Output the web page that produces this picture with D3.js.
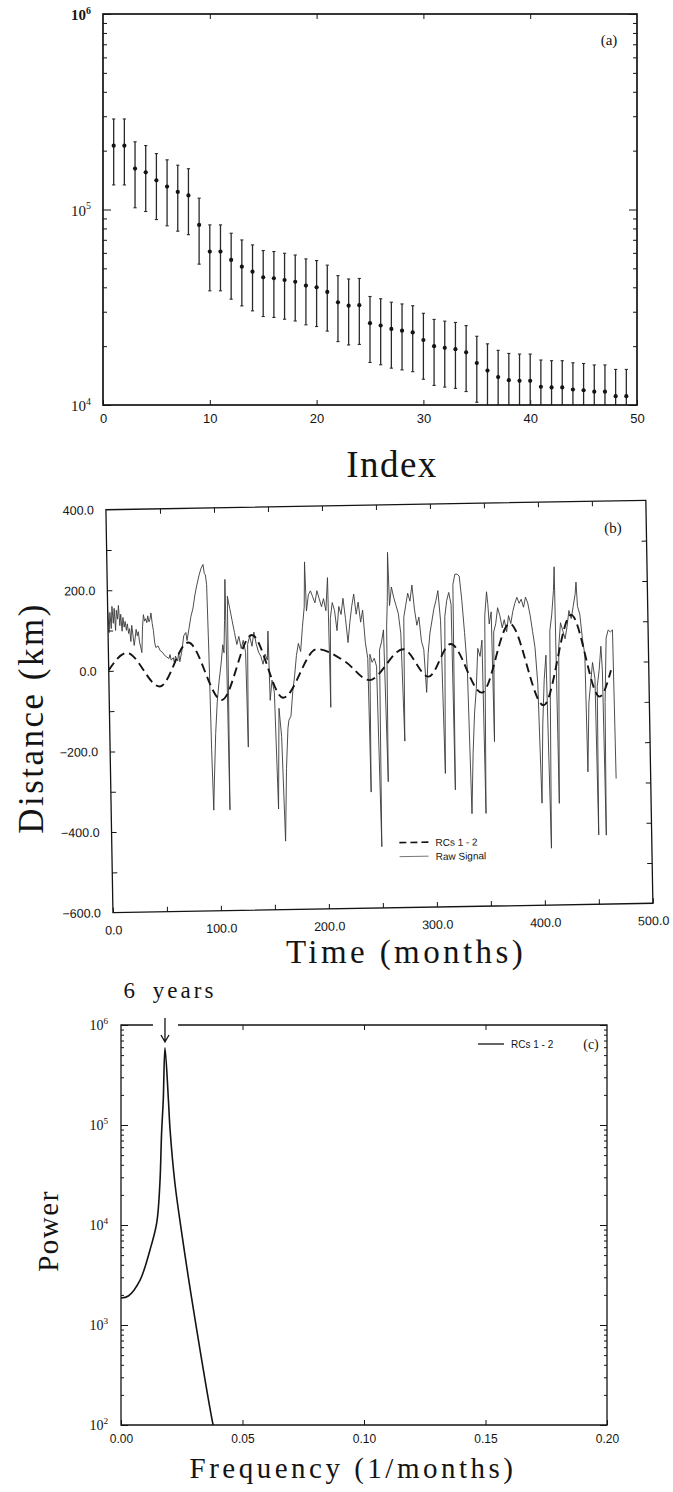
<!DOCTYPE html>
<html>
<head>
<meta charset="utf-8">
<script src="https://cdn.jsdelivr.net/npm/d3@7"></script>
<style>
  html, body { margin: 0; padding: 0; background: #fff; }
  svg { display: block; }
</style>
</head>
<body>
<svg id="fig" width="673" height="1492"></svg>
<script>
// ---------- data ----------
// (a) SSA eigenvalue spectrum, index 1..49
const eigenvalues = [212000, 212000, 162000, 155000, 141000, 131000, 123000, 118000, 83400, 60900,
                     60900, 55200, 51000, 48100, 45000, 44500, 43600, 42700, 40800, 40000,
                     37900, 33500, 32200, 32400, 26200, 25500, 24500, 24000, 23500, 21500,
                     20000, 19600, 19300, 18600, 16400, 15000, 13900, 13400, 13300, 13300,
                     12400, 12300, 12300, 12000, 11900, 11700, 11700, 11100, 11100];
const errorFraction = 0.37;          // half-length of each error bar relative to its eigenvalue
const indexTicks = [0, 10, 20, 30, 40, 50];
const decadesA = [1e4, 1e5, 1e6];

// (b) reconstructed components 1-2 (dashed) and raw signal, months vs km
const rcMonths = [0, 17, 47, 74, 104, 133, 161, 193, 219, 241, 273, 296, 317, 345, 372, 402, 429, 454, 465];
const rcKm     = [2, 44, -41, 67, -77, 83, -74, 45, 13, -34, 41, -28, 52, -70, 100, -104, 119, -85, -20];
const rawSignal = [
  [0,150],[1,95],[2,145],[3,105],[4,160],[5,118],[6,155],[7,100],[8,150],[9,128],[10,162],[11,112],
  [12,140],[13,98],[14,132],[15,108],[16,122],[17,100],[18,116],[19,92],[20,104],[21,72],[22,112],
  [23,88],[24,62],[25,80],[26,102],[27,86],[28,96],[29,70],[30,58],[31,44],[32,108],[33,138],[34,122],
  [35,128],[36,118],[37,135],[38,120],[39,126],[40,142],[41,116],[42,98],[43,68],[44,56],[46,60],[48,48],
  [50,44],[52,36],[54,32],[56,28],[57,38],[58,24],[60,30],[61,16],[62,34],[64,22],[65,42],[66,20],[68,46],
  [70,84],[72,92],[73,72],[75,102],[77,132],[79,152],[81,185],[83,210],[85,232],[87,250],[89,260],[90,238],
  [91,234],[92,210],[93,40],[94,-200],[95,-350],[96,-280],[98,-160],[100,-80],[102,-30],[104,10],[106,60],
  [107,40],[108,120],[109,222],[110,-350],[111,180],[113,150],[115,120],[117,90],[119,60],[121,80],[123,50],
  [125,70],[127,40],[128,-195],[129,60],[131,80],[133,55],[135,90],[137,60],[139,40],[141,30],[143,10],
  [145,35],[147,20],[148,92],[149,-80],[151,-30],[153,-60],[155,-350],[157,-100],[159,-170],[161,-430],
  [163,-250],[165,-150],[166,-130],[168,-120],[170,-60],[172,-20],[174,30],[176,60],[178,40],[180,100],
  [182,150],[183,262],[184,140],[186,180],[188,190],[190,175],[192,160],[194,190],[196,170],[198,150],
  [200,170],[202,140],[204,222],[205,-100],[206,120],[208,160],[210,140],[212,90],[214,150],[216,130],
  [218,170],[220,120],[222,60],[224,110],[226,150],[228,180],[230,130],[232,160],[234,110],[236,140],
  [238,60],[240,20],[241,-312],[242,30],[244,10],[246,20],[248,0],[250,-448],[251,40],[253,60],[255,90],
  [257,-287],[258,100],[259,160],[260,282],[261,150],[263,196],[265,170],[267,150],[269,130],[271,80],
  [273,-187],[274,120],[276,150],[278,180],[280,160],[282,200],[284,140],[286,100],[288,120],[290,60],
  [292,40],[294,-67],[296,30],[298,80],[300,110],[302,140],[304,160],[306,185],[308,110],[310,-269],
  [312,120],[314,160],[316,180],[318,150],[319,-310],[320,200],[322,225],[324,225],[326,220],[328,160],
  [330,80],[332,-10],[334,-370],[336,-220],[338,-120],[340,-60],[342,40],[344,20],[346,60],[347,-370],
  [349,120],[351,180],[352,150],[353,100],[355,130],[356,-192],[357,80],[359,100],[361,140],[363,120],
  [365,90],[367,110],[369,80],[371,120],[373,100],[375,130],[377,150],[379,165],[381,150],[383,160],
  [385,140],[387,165],[389,150],[391,120],[393,80],[395,40],[397,-50],[399,-347],[401,-150],[403,-40],
  [405,20],[407,-459],[409,80],[411,120],[413,180],[414,239],[415,-348],[417,40],[419,100],[421,80],
  [423,60],[425,90],[427,130],[429,110],[431,140],[433,170],[434,200],[435,140],[437,120],[439,60],
  [441,20],[442,-271],[444,-100],[446,-50],[448,0],[450,-40],[451,-428],[452,-60],[454,-20],[456,40],
  [457,-20],[458,-429],[459,-100],[461,60],[463,80],[465,75],[467,80],[468,-289]
];
const timeTicks = [0, 100, 200, 300, 400, 500];
const distTicks = [-600, -400, -200, 0, 200, 400];

// (c) power spectrum of RCs 1-2
const specFreq  = [0, 0.003, 0.0078, 0.0119, 0.0147, 0.016, 0.0167, 0.0174, 0.0181, 0.0195, 0.0202, 0.0222, 0.025, 0.029, 0.0379, 0.0400];
const specPower = [1860, 1950, 2800, 5600, 10500, 26000, 83000, 180000, 590000, 180000, 89000, 26000, 8300, 1900, 100, 60];
const freqTicks = [0, 0.05, 0.10, 0.15, 0.20];
const decadesC = [1e2, 1e3, 1e4, 1e5, 1e6];
const peakFreq = 0.0181;

// ---------- helpers ----------
const svg = d3.select("#fig");
const serif = "'Liberation Serif','Times New Roman',serif";
const sans = "'Liberation Sans',Arial,Helvetica,sans-serif";
const ink = "#141414";

function frame(g, x0, y0, x1, y1, w) {
  g.append("rect").attr("x", x0).attr("y", y0).attr("width", x1 - x0).attr("height", y1 - y0)
    .attr("fill", "none").attr("stroke", ink).attr("stroke-width", w);
}
function styleAxis(sel) {
  sel.select(".domain").remove();
  sel.selectAll(".tick line").attr("stroke", ink).attr("stroke-width", 1);
  sel.selectAll(".tick text").attr("fill", ink);
}
function minorLog(decades) {
  const out = [];
  for (let i = 0; i < decades.length - 1; i++)
    for (let k = 2; k <= 9; k++) out.push(decades[i] * k);
  return out;
}
function powerLabel(g, x, y, exp, size) {
  const t = g.append("text").attr("x", x).attr("y", y).attr("text-anchor", "end")
    .attr("font-family", serif).attr("font-size", size).attr("fill", ink);
  t.append("tspan").text("10");
  t.append("tspan").attr("dy", -size * 0.42).attr("font-size", size * 0.66).text(exp);
  return t;
}

// ---------- (a) ----------
const A = { left: 103, right: 637, top: 14, bottom: 405 };
const xA = d3.scaleLinear().domain([0, 50]).range([A.left, A.right]);
const yA = d3.scaleLog().domain([1e4, 1e6]).range([A.bottom, A.top]);
const gA = svg.append("g");

gA.append("defs").append("clipPath").attr("id", "clipA")
  .append("rect").attr("x", A.left).attr("y", A.top).attr("width", A.right - A.left).attr("height", A.bottom - A.top);

gA.append("g").attr("transform", `translate(0,${A.bottom})`)
  .call(d3.axisBottom(xA).tickValues(indexTicks).tickSize(-5).tickPadding(9).tickFormat(d3.format("d")))
  .call(styleAxis)
  .call(g => g.selectAll("text").attr("font-family", sans).attr("font-size", 13));
gA.append("g").attr("transform", `translate(0,${A.top})`)
  .call(d3.axisTop(xA).tickValues(indexTicks.slice(1, -1)).tickSize(-5).tickFormat(""))
  .call(styleAxis);
[[d3.axisLeft, A.left], [d3.axisRight, A.right]].forEach(([ax, x]) => {
  gA.append("g").attr("transform", `translate(${x},0)`)
    .call(ax(yA).tickValues(minorLog(decadesA)).tickSize(-4).tickFormat(""))
    .call(styleAxis);
  gA.append("g").attr("transform", `translate(${x},0)`)
    .call(ax(yA).tickValues(decadesA).tickSize(-8).tickFormat(""))
    .call(styleAxis);
});
decadesA.forEach(d => {
  const exp = Math.round(Math.log10(d));
  powerLabel(gA, 91, yA(d) + 6, exp, 15).attr("font-weight", exp === 6 ? "bold" : "normal");
});

const bars = gA.append("g").attr("clip-path", "url(#clipA)");
eigenvalues.forEach((v, i) => {
  const x = xA(i + 1);
  const yHi = yA(v * (1 + errorFraction));
  const yLo = yA(Math.max(v * (1 - errorFraction), 1e3));
  bars.append("line").attr("x1", x).attr("x2", x).attr("y1", yHi).attr("y2", yLo)
    .attr("stroke", "#2a2a2a").attr("stroke-width", 1.3);
  [yHi, yLo].forEach(y => bars.append("line").attr("x1", x - 1.6).attr("x2", x + 1.6)
    .attr("y1", y).attr("y2", y).attr("stroke", "#2a2a2a").attr("stroke-width", 1.1));
  bars.append("circle").attr("cx", x).attr("cy", yA(v)).attr("r", 2.1).attr("fill", ink);
});
frame(gA, A.left, A.top, A.right, A.bottom, 1.7);
gA.append("text").attr("x", 609).attr("y", 45).attr("text-anchor", "middle")
  .attr("font-family", serif).attr("font-size", 15).attr("fill", ink).text("(a)");
svg.append("text").attr("x", 392).attr("y", 477).attr("text-anchor", "middle")
  .attr("font-family", serif).attr("font-size", 37).attr("letter-spacing", 1.5).attr("fill", ink).text("Index");

// ---------- (b) ----------
const B = { left: 109.4, right: 649.4, top: 505, bottom: 908 };
const xB = d3.scaleLinear().domain([0, 500]).range([B.left, B.right]);
const yB = d3.scaleLinear().domain([-600, 400]).range([B.bottom, B.top]);
const cxB = (B.left + B.right) / 2, cyB = (B.top + B.bottom) / 2;
const gB = svg.append("g").attr("transform", `rotate(-1,${cxB},${cyB})`);

gB.append("defs").append("clipPath").attr("id", "clipB")
  .append("rect").attr("x", B.left).attr("y", B.top).attr("width", B.right - B.left).attr("height", B.bottom - B.top);

gB.append("g").attr("transform", `translate(0,${B.bottom})`)
  .call(d3.axisBottom(xB).tickValues(d3.range(0, 501, 50)).tickSize(-5).tickFormat(""))
  .call(styleAxis);
gB.append("g").attr("transform", `translate(0,${B.bottom})`)
  .call(d3.axisBottom(xB).tickValues(timeTicks).tickSize(0).tickPadding(13).tickFormat(d3.format(".1f")))
  .call(styleAxis)
  .call(g => g.selectAll("text").attr("font-family", sans).attr("font-size", 12.5));
gB.append("g").attr("transform", `translate(0,${B.top})`)
  .call(d3.axisTop(xB).tickValues(d3.range(50, 500, 50)).tickSize(-5).tickFormat(""))
  .call(styleAxis);
gB.append("g").attr("transform", `translate(${B.left},0)`)
  .call(d3.axisLeft(yB).tickValues(d3.range(-500, 400, 100)).tickSize(-5).tickFormat(""))
  .call(styleAxis);
gB.append("g").attr("transform", `translate(${B.left},0)`)
  .call(d3.axisLeft(yB).tickValues(distTicks).tickSize(0).tickPadding(12).tickFormat(d3.format(".1f")))
  .call(styleAxis)
  .call(g => g.selectAll("text").attr("font-family", sans).attr("font-size", 12.5));
gB.append("g").attr("transform", `translate(${B.right},0)`)
  .call(d3.axisRight(yB).tickValues(d3.range(-500, 400, 100)).tickSize(-5).tickFormat(""))
  .call(styleAxis);

const plotB = gB.append("g").attr("clip-path", "url(#clipB)");
plotB.append("path").datum(rawSignal)
  .attr("d", d3.line().x(d => xB(d[0])).y(d => yB(d[1])))
  .attr("fill", "none").attr("stroke", "#3a3a3a").attr("stroke-width", 0.9).attr("stroke-linejoin", "round");
plotB.append("path").datum(rcMonths.map((m, i) => [m, rcKm[i]]))
  .attr("d", d3.line().x(d => xB(d[0])).y(d => yB(d[1])).curve(d3.curveMonotoneX))
  .attr("fill", "none").attr("stroke", ink).attr("stroke-width", 1.9).attr("stroke-dasharray", "9,5");
frame(gB, B.left, B.top, B.right, B.bottom, 1.3);
gB.append("text").attr("x", 616).attr("y", 537).attr("text-anchor", "middle")
  .attr("font-family", serif).attr("font-size", 15).attr("fill", ink).text("(b)");

// legend (b)
const legB = gB.append("g").attr("font-family", sans).attr("font-size", 10).attr("fill", ink);
legB.append("line").attr("x1", 397).attr("x2", 426).attr("y1", 843).attr("y2", 843)
  .attr("stroke", ink).attr("stroke-width", 1.6).attr("stroke-dasharray", "7,4");
legB.append("text").attr("x", 433).attr("y", 847).text("RCs 1 - 2");
legB.append("line").attr("x1", 397).attr("x2", 426).attr("y1", 857).attr("y2", 857)
  .attr("stroke", "#555").attr("stroke-width", 0.8);
legB.append("text").attr("x", 433).attr("y", 861).text("Raw Signal");

svg.append("text").attr("transform", "translate(43,718) rotate(-90)").attr("text-anchor", "middle")
  .attr("font-family", serif).attr("font-size", 35).attr("letter-spacing", 2.5).attr("fill", ink).text("Distance (km)");
svg.append("text").attr("x", 406).attr("y", 963).attr("text-anchor", "middle")
  .attr("font-family", serif).attr("font-size", 33).attr("letter-spacing", 3.4).attr("fill", ink).text("Time (months)");

// ---------- (c) ----------
const C = { left: 121, right: 607, top: 1025, bottom: 1425 };
const xC = d3.scaleLinear().domain([0, 0.2]).range([C.left, C.right]);
const yC = d3.scaleLog().domain([1e2, 1e6]).range([C.bottom, C.top]);
const gC = svg.append("g");

gC.append("defs").append("clipPath").attr("id", "clipC")
  .append("rect").attr("x", C.left).attr("y", C.top).attr("width", C.right - C.left).attr("height", C.bottom - C.top);

gC.append("g").attr("transform", `translate(0,${C.bottom})`)
  .call(d3.axisBottom(xC).tickValues(freqTicks).tickSize(-5).tickPadding(9).tickFormat(d3.format(".2f")))
  .call(styleAxis)
  .call(g => g.selectAll("text").attr("font-family", sans).attr("font-size", 12));
gC.append("g").attr("transform", `translate(0,${C.top})`)
  .call(d3.axisTop(xC).tickValues(freqTicks.slice(1, -1)).tickSize(-5).tickFormat(""))
  .call(styleAxis);
[[d3.axisLeft, C.left], [d3.axisRight, C.right]].forEach(([ax, x]) => {
  gC.append("g").attr("transform", `translate(${x},0)`)
    .call(ax(yC).tickValues(minorLog(decadesC)).tickSize(-3).tickFormat(""))
    .call(styleAxis);
  gC.append("g").attr("transform", `translate(${x},0)`)
    .call(ax(yC).tickValues(decadesC).tickSize(-7).tickFormat(""))
    .call(styleAxis);
});
decadesC.forEach(d => powerLabel(gC, 108, yC(d) + 5, Math.round(Math.log10(d)), 14));

gC.append("g").attr("clip-path", "url(#clipC)").append("path")
  .datum(specFreq.map((f, i) => [f, specPower[i]]))
  .attr("d", d3.line().x(d => xC(d[0])).y(d => yC(d[1])).curve(d3.curveCatmullRom.alpha(0.5)))
  .attr("fill", "none").attr("stroke", ink).attr("stroke-width", 1.6);

// frame with a gap in the top edge for the peak arrow
const gapL = xC(peakFreq) - 12, gapR = xC(peakFreq) + 13;
gC.append("path")
  .attr("d", `M${gapL},${C.top}H${C.left}V${C.bottom}H${C.right}V${C.top}H${gapR}`)
  .attr("fill", "none").attr("stroke", ink).attr("stroke-width", 1.3);
const ax = xC(peakFreq);
gC.append("path").attr("d", `M${ax},${C.top - 7}V${C.top + 17}M${ax - 4},${C.top + 10}L${ax},${C.top + 17}L${ax + 4},${C.top + 10}`)
  .attr("fill", "none").attr("stroke", ink).attr("stroke-width", 1.3);
svg.append("text").attr("x", ax + 5).attr("y", 998).attr("text-anchor", "middle")
  .attr("font-family", serif).attr("font-size", 23).attr("letter-spacing", 3).attr("word-spacing", 6)
  .attr("fill", ink).text("6 years");

gC.append("text").attr("x", 591).attr("y", 1049).attr("text-anchor", "middle")
  .attr("font-family", serif).attr("font-size", 14).attr("fill", ink).text("(c)");
gC.append("line").attr("x1", 478).attr("x2", 504).attr("y1", 1044).attr("y2", 1044)
  .attr("stroke", ink).attr("stroke-width", 1.3);
gC.append("text").attr("x", 511).attr("y", 1048).attr("font-family", sans).attr("font-size", 10)
  .attr("fill", ink).text("RCs 1 - 2");

svg.append("text").attr("transform", "translate(58,1231) rotate(-90)").attr("text-anchor", "middle")
  .attr("font-family", serif).attr("font-size", 29).attr("letter-spacing", 1.5).attr("fill", ink).text("Power");
svg.append("text").attr("x", 353).attr("y", 1478).attr("text-anchor", "middle")
  .attr("font-family", serif).attr("font-size", 29).attr("letter-spacing", 3.5).attr("fill", ink).text("Frequency (1/months)");
</script>
</body>
</html>
